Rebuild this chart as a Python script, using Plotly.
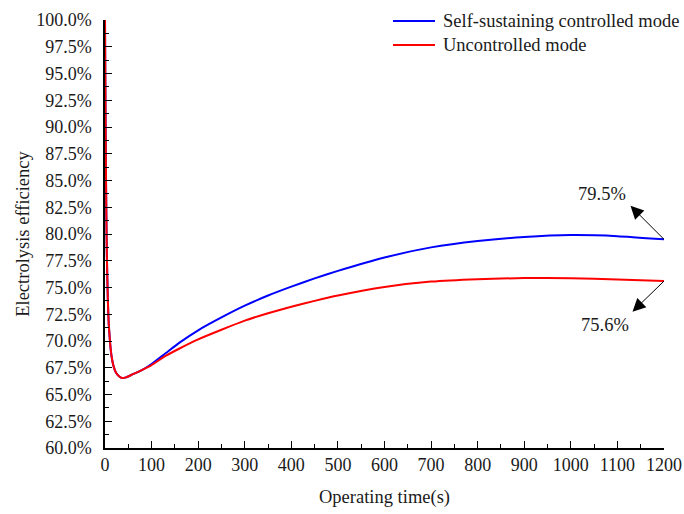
import plotly.graph_objects as go

# Operating time (s)
time_s = [0, 1, 2, 3, 4, 6, 8, 11, 14, 18, 24, 30, 36, 45, 60, 80, 100, 130,
          160, 200, 250, 300, 350, 400, 450, 500, 600, 700, 800, 900, 1000,
          1100, 1200]

# Electrolysis efficiency (%)
self_sustaining = [100.0, 92.0, 86.0, 81.5, 78.0, 74.0, 71.6, 69.8, 68.6, 67.7,
                   67.0, 66.7, 66.55, 66.6, 66.9, 67.3, 67.85, 68.85, 69.85, 71.0,
                   72.2, 73.3, 74.25, 75.08, 75.85, 76.55, 77.8, 78.75, 79.35,
                   79.72, 79.9, 79.8, 79.5]
uncontrolled = [100.0, 92.0, 86.0, 81.5, 78.0, 74.0, 71.6, 69.8, 68.6, 67.7,
                67.0, 66.7, 66.55, 66.6, 66.9, 67.3, 67.75, 68.6, 69.3, 70.15,
                71.05, 71.9, 72.6, 73.2, 73.75, 74.25, 75.05, 75.55, 75.78,
                75.88, 75.86, 75.75, 75.6]

series_names = ["Self-sustaining controlled mode", "Uncontrolled mode"]
series_colors = ["#0000FF", "#FF0000"]

FONT = "Liberation Serif"
TEXT_COLOR = "#1a1a1a"
TICK_SIZE = 18
LABEL_SIZE = 18.5

W, H = 684, 514
M_L, M_R, M_T, M_B = 105, 20, 20, 66
PLOT_W, PLOT_H = W - M_L - M_R, H - M_T - M_B


def px_to_paper(px, py):
    """Convert page pixel position to paper coordinates."""
    return (px - M_L) / PLOT_W, (H - M_B - py) / PLOT_H


fig = go.Figure()
for name, vals, col in zip(series_names, [self_sustaining, uncontrolled], series_colors):
    fig.add_trace(go.Scatter(
        x=time_s, y=vals, mode="lines", name=name, showlegend=False,
        line=dict(color=col, width=2, shape="spline", smoothing=0.5),
    ))

axis_common = dict(
    showline=True, linecolor="black", linewidth=1.5,
    ticks="inside", ticklen=7, tickwidth=1.3, tickcolor="black",
    showgrid=False, zeroline=False, automargin=False, tickangle=0,
    tickfont=dict(family=FONT, size=TICK_SIZE, color=TEXT_COLOR),
)

fig.update_xaxes(
    range=[0, 1200], dtick=100, tick0=0,
    minor=dict(ticks="inside", ticklen=4, tickwidth=1.3, tickcolor="black", dtick=50),
    title=dict(text="Operating time(s)", font=dict(family=FONT, size=LABEL_SIZE, color=TEXT_COLOR), standoff=16),
    **axis_common,
)
fig.update_yaxes(
    range=[60, 100], dtick=2.5, tick0=60, tickformat=".1f", ticksuffix="%",
    minor=dict(ticks="inside", ticklen=4, tickwidth=1.3, tickcolor="black", dtick=1.25),
    ticklabelstandoff=8,
    title=dict(text="Electrolysis efficiency", font=dict(family=FONT, size=LABEL_SIZE, color=TEXT_COLOR), standoff=2),
    **axis_common,
)

# Legend drawn as line swatches with labels in the top-right corner
for i, (name, col) in enumerate(zip(series_names, series_colors)):
    row_y = 21 + 24 * i
    x0, y0 = px_to_paper(393, row_y)
    x1, _ = px_to_paper(435, row_y)
    xt, _ = px_to_paper(441, row_y)
    fig.add_shape(type="line", xref="paper", yref="paper", x0=x0, x1=x1, y0=y0, y1=y0,
                  line=dict(color=col, width=2))
    fig.add_annotation(xref="paper", yref="paper", x=xt, y=y0, text=name,
                       xanchor="left", yanchor="middle", showarrow=False,
                       font=dict(family=FONT, size=LABEL_SIZE, color=TEXT_COLOR))

# End-value callouts: arrow pointing away from the final point, label beside it
ends = [
    (self_sustaining[-1], -35, -35, -62, 45),
    (uncontrolled[-1], -33, 32, -59, -44),
]
for val, ax, ay, xs, ys in ends:
    fig.add_annotation(
        x=time_s[-1], y=val, xref="x", yref="y", text="",
        showarrow=True, arrowside="start", startarrowhead=2, startarrowsize=2.6,
        arrowwidth=1, arrowcolor="black", ax=ax, ay=ay,
    )
    fig.add_annotation(
        x=time_s[-1], y=val, xref="x", yref="y", text=f"{val:.1f}%",
        showarrow=False, xshift=xs, yshift=ys,
        font=dict(family=FONT, size=LABEL_SIZE, color=TEXT_COLOR),
    )

fig.update_layout(
    width=W, height=H,
    margin=dict(l=M_L, r=M_R, t=M_T, b=M_B),
    paper_bgcolor="white", plot_bgcolor="white",
    showlegend=False,
)

fig.write_html("out.html")
